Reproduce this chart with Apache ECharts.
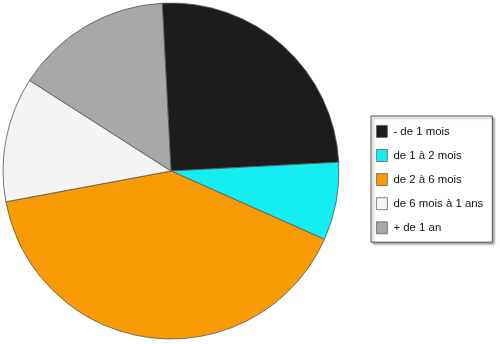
<!DOCTYPE html>
<html><head><meta charset="utf-8">
<script src="https://cdn.jsdelivr.net/npm/echarts@6/dist/echarts.min.js"></script>
<style>html,body{margin:0;padding:0;background:#fff}#c{width:500px;height:344px}</style>
</head><body><div id="c"></div>
<script>
var categories = ['- de 1 mois', 'de 1 à 2 mois', 'de 2 à 6 mois', 'de 6 mois à 1 ans', '+ de 1 an'];
var values = [25.0, 7.5, 40.4, 12.0, 15.1];
var colors = ['#1c1c1c', '#14eef2', '#f99b05', '#f4f4f4', '#a8a8a8'];

var chart = echarts.init(document.getElementById('c'), null, {renderer: 'canvas'});
chart.setOption({
  animation: false,
  color: colors,
  legend: {
    orient: 'vertical',
    left: 371, top: 116,
    padding: [9, 9, 8, 5],
    itemWidth: 11, itemHeight: 12, itemGap: 11.3,
    icon: 'rect',
    borderColor: '#555', borderWidth: 1,
    shadowColor: 'rgba(0,0,0,0.35)', shadowOffsetX: 2, shadowOffsetY: 2, shadowBlur: 2,
    backgroundColor: '#fff',
    itemStyle: {borderColor: '#666', borderWidth: 0.8},
    textStyle: {fontFamily: 'Liberation Sans, Arial, sans-serif', fontSize: 11.4, lineHeight: 12, color: '#111', padding: [0,0,0,1]},
    data: categories
  },
  series: [{
    type: 'pie',
    center: [171, 171],
    radius: [0, 168],
    startAngle: 93,
    clockwise: true,
    label: {show: false},
    labelLine: {show: false},
    itemStyle: {borderColor: '#555', borderWidth: 0.8},
    emphasis: {disabled: true},
    data: categories.map(function(n, i){ return {name: n, value: values[i]}; })
  }]
});
</script></body></html>
